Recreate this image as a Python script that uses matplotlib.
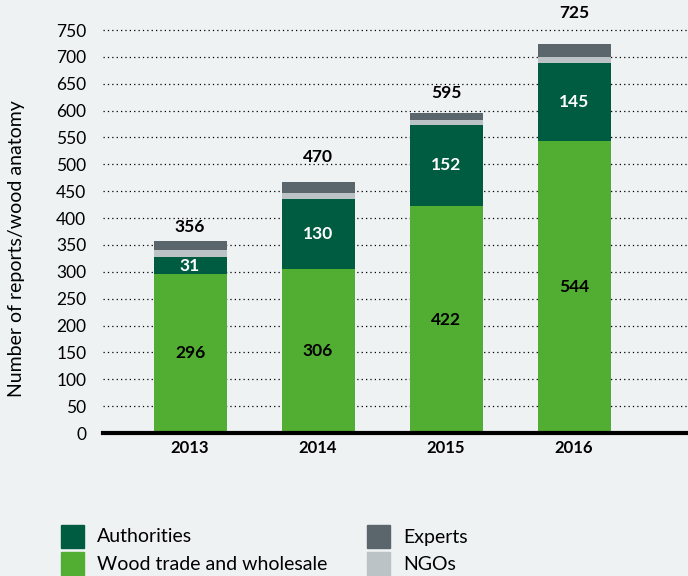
import numpy as np
import matplotlib.pyplot as plt

plt.rcParams['font.family'] = ['Lato', 'DejaVu Sans']

years = ['2013', '2014', '2015', '2016']
wood = [296, 306, 422, 544]
authorities = [31, 130, 152, 145]
ngos = [13, 11, 9, 11]
experts = [18, 21, 12, 24]
totals = [356, 470, 595, 725]
# gap (pixels) between bar top and total label, as placed in the original
label_gap = [14, 25, 20, 31]

c_wood = '#52ae32'
c_auth = '#005c41'
c_ngo = '#bcc3c7'
c_exp = '#5a656c'
bg = '#eff2f3'

fig = plt.figure(figsize=(6.88, 5.76), dpi=100, facecolor=bg)
ax = fig.add_axes([103/688, 1 - 433/576, 1 - 103/688, 433/576])
ax.set_facecolor(bg)

x = np.arange(len(years))
w = 0.57
wood = np.array(wood)
authorities = np.array(authorities)
ngos = np.array(ngos)
experts = np.array(experts)

ax.bar(x, wood, w, color=c_wood, zorder=3)
ax.bar(x, authorities, w, bottom=wood, color=c_auth, zorder=3)
ax.bar(x, ngos, w, bottom=wood + authorities, color=c_ngo, zorder=3)
ax.bar(x, experts, w, bottom=wood + authorities + ngos, color=c_exp, zorder=3)

top = wood + authorities + ngos + experts
for i in range(len(years)):
    ax.text(x[i], wood[i] / 2, str(wood[i]), ha='center', va='center',
            fontsize=12.5, fontweight='bold', color='black', zorder=4)
    ax.text(x[i], wood[i] + authorities[i] / 2, str(authorities[i]), ha='center', va='center',
            fontsize=12.5, fontweight='bold', color='white', zorder=4)
    ax.annotate(str(totals[i]), (x[i], top[i]), xytext=(0, label_gap[i]), textcoords='offset pixels',
                ha='center', va='center', fontsize=12.5, fontweight='bold')

ax.set_xlim(-0.68, 3.89)
ax.set_ylim(0, 433 / 0.5373)
ax.set_yticks(np.arange(0, 751, 50))
ax.set_xticks(x)
ax.set_xticklabels(years, fontweight='bold', fontsize=12)
ax.tick_params(axis='y', length=0, labelsize=12.5, pad=12)
ax.tick_params(axis='x', length=0, pad=5)
ax.yaxis.grid(True, linestyle=(0, (1, 2.5)), color='black', linewidth=0.9, zorder=1)
for s in ax.spines.values():
    s.set_visible(False)
ax.axhline(0, color='black', linewidth=3, zorder=5, clip_on=False)

fig.text(17/688, 1 - 249/576, 'Number of reports/wood anatomy', rotation=90,
         ha='center', va='center', fontsize=14)

# legend
def leg(px, py, color, label):
    fig.patches.append(plt.Rectangle((px/688, 1 - (py + 23)/576), 23/688, 23/576,
                                     transform=fig.transFigure, color=color))
    fig.text((px + 36)/688, 1 - (py + 12)/576, label, ha='left', va='center', fontsize=14)

leg(61, 525, c_auth, 'Authorities')
leg(61, 552, c_wood, 'Wood trade and wholesale')
leg(367, 525, c_exp, 'Experts')
leg(367, 552, c_ngo, 'NGOs')

fig.savefig('out.png', dpi=100, facecolor=bg)
